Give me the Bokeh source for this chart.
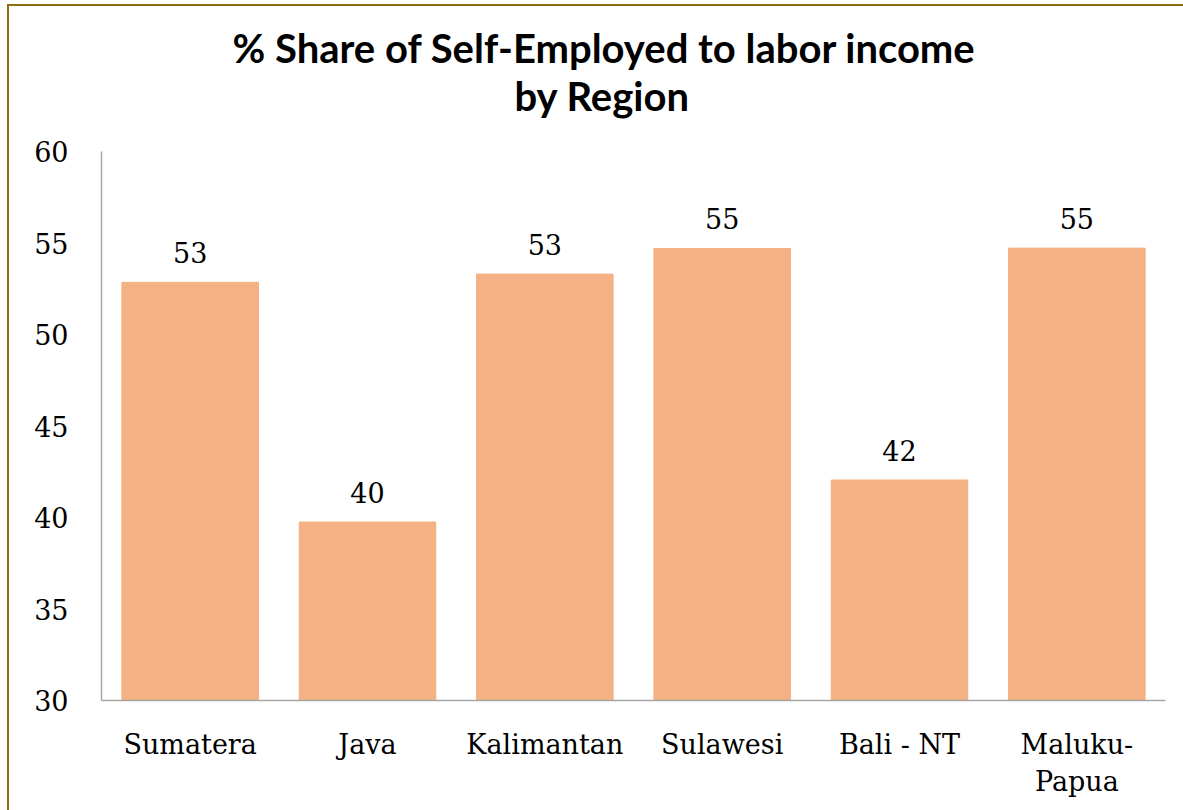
from bokeh.plotting import figure
from bokeh.models import Title, ColumnDataSource, FixedTicker
from bokeh.core.properties import value
from bokeh.embed import file_html
from bokeh.resources import INLINE

regions = ["Sumatera", "Java", "Kalimantan", "Sulawesi", "Bali - NT", "Maluku-\nPapua"]
shares = [52.85, 39.75, 53.3, 54.7, 42.05, 54.72]
labels = ["53", "40", "53", "55", "42", "55"]
y_ticks = [30, 35, 40, 45, 50, 55, 60]

SERIF = "DejaVu Serif"
src = ColumnDataSource(dict(x=regions, top=shares, lab=labels))

p = figure(x_range=regions, y_range=(30, 60), width=1176, height=806,
           output_backend="svg", toolbar_location=None,
           min_border_left=92, min_border_right=20, min_border_top=145, min_border_bottom=112)
p.margin = (4, 0, 0, 7)
p.styles = {"border-left": "2px solid #8C6D12", "border-top": "2px solid #8C6D12"}
p.outline_line_color = None
p.xgrid.grid_line_color = None
p.ygrid.grid_line_color = None

p.vbar(x="x", top="top", bottom=30, width=0.77, source=src, color="#F4B183")
p.text(x="x", y="top", text="lab", source=src, y_offset=-19,
       text_align="center", text_baseline="bottom",
       text_font=value(SERIF), text_font_size="27px", text_color="#000000")

t2 = Title(text="by Region", align="left", offset=413, text_font="Lato",
           text_font_style="bold", text_font_size="40px", text_color="#000000", standoff=63)
t1 = Title(text="% Share of Self-Employed to labor income", align="left", offset=131,
           text_font="Lato", text_font_style="bold", text_font_size="40px",
           text_color="#000000", standoff=-66)
p.add_layout(t2, "above")
p.add_layout(t1, "above")

for ax in (p.xaxis[0], p.yaxis[0]):
    ax.axis_line_color = "#A6A6A6"
    ax.axis_line_width = 1.5
    ax.major_tick_line_color = None
    ax.minor_tick_line_color = None
    ax.major_label_text_font = SERIF
    ax.major_label_text_font_size = "27px"
    ax.major_label_text_color = "#000000"
p.yaxis.ticker = FixedTicker(ticks=y_ticks)
p.yaxis.major_label_standoff = 27
p.xaxis.major_label_standoff = 22

open("out.html", "w").write(file_html(p, INLINE))
